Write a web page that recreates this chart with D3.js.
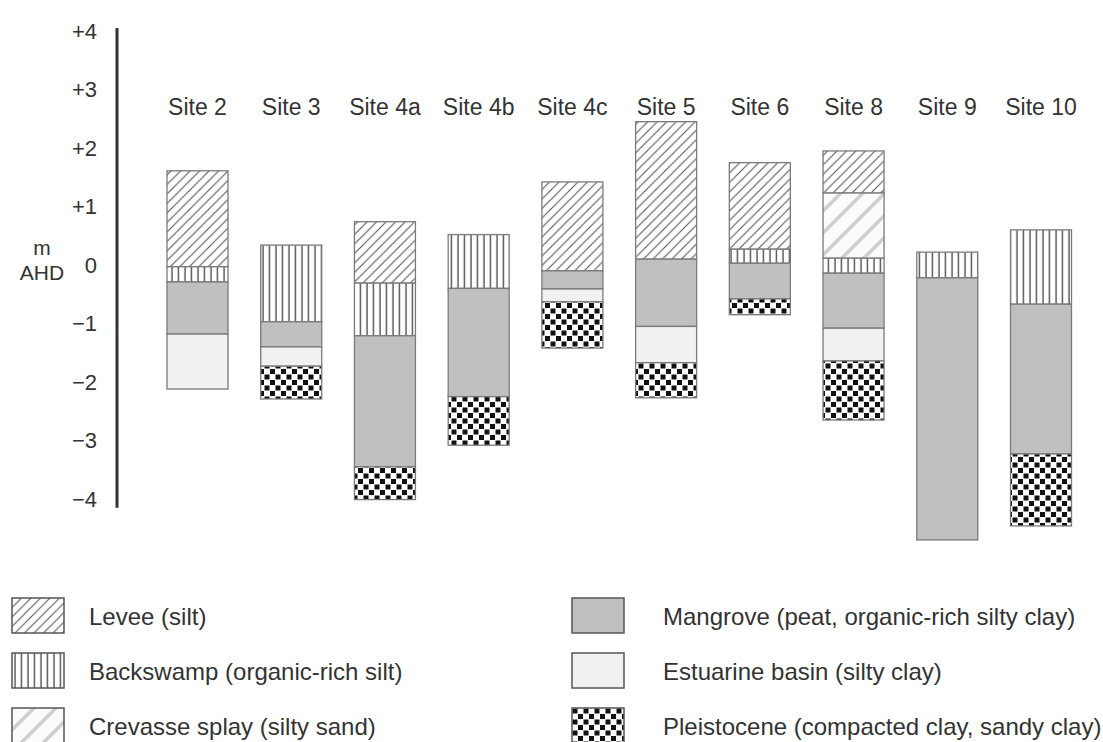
<!DOCTYPE html>
<html><head><meta charset="utf-8">
<script src="https://cdn.jsdelivr.net/npm/d3@7"></script>
<style>
html,body{margin:0;padding:0;background:#fff;}
text{font-family:"Liberation Sans",Arial,Helvetica,sans-serif;fill:#333;}
</style></head>
<body>
<svg id="chart" width="1103" height="742"></svg>
<script>
// ---- data ----
const sites = ["Site 2","Site 3","Site 4a","Site 4b","Site 4c","Site 5","Site 6","Site 8","Site 9","Site 10"];
const tickValues = [4,3,2,1,0,-1,-2,-3,-4];
const tickLabels = ["+4","+3","+2","+1","0","\u22121","\u22122","\u22123","\u22124"];
const unitKeys = ["levee","backswamp","crevasse","mangrove","estuarine","pleistocene"];
const unitLabels = ["Levee (silt)","Backswamp (organic-rich silt)","Crevasse splay (silty sand)",
  "Mangrove (peat, organic-rich silty clay)","Estuarine basin (silty clay)","Pleistocene (compacted clay, sandy clay)"];
// [top, bottom] in m AHD per site (null = unit absent)
const levee       = [[1.61,-0.03],null,[0.74,-0.31],null,[1.42,-0.10],[2.45,0.10],[1.75,0.27],[1.95,1.23],null,null];
const backswamp   = [[-0.03,-0.29],[0.34,-0.97],[-0.31,-1.21],[0.52,-0.40],null,null,[0.27,0.03],[0.12,-0.14],[0.22,-0.22],[0.60,-0.67]];
const crevasse    = [null,null,null,null,null,null,null,[1.23,0.12],null,null];
const mangrove    = [[-0.29,-1.18],[-0.97,-1.40],[-1.21,-3.45],[-0.40,-2.25],[-0.10,-0.41],[0.10,-1.05],[0.03,-0.58],[-0.14,-1.08],[-0.22,-4.70],[-0.67,-3.23]];
const estuarine   = [[-1.18,-2.12],[-1.40,-1.73],null,null,[-0.41,-0.63],[-1.05,-1.67],null,[-1.08,-1.64],null,null];
const pleistocene = [null,[-1.73,-2.29],[-3.45,-4.01],[-2.25,-3.08],[-0.63,-1.42],[-1.67,-2.27],[-0.58,-0.85],[-1.64,-2.65],null,[-3.23,-4.46]];

const unitData = {levee, backswamp, crevasse, mangrove, estuarine, pleistocene};

// ---- layout ----
const svg = d3.select("#chart");
const y = d3.scaleLinear().domain([4,-4]).range([31,499]);
const x = d3.scalePoint().domain(sites).range([197.5,1041]);
const barW = 61;

const defs = svg.append("defs");
const pL = defs.append("pattern").attr("id","levee").attr("patternUnits","userSpaceOnUse")
  .attr("width",9.5).attr("height",9.5);
pL.append("rect").attr("width",9.5).attr("height",9.5).attr("fill","#fff");
pL.append("path").attr("d","M-1,10.5 L10.5,-1 M-5.75,5.75 L5.75,-5.75 M3.75,15.25 L15.25,3.75").attr("stroke","#555").attr("stroke-width",1.1);
const pB = defs.append("pattern").attr("id","backswamp").attr("patternUnits","userSpaceOnUse")
  .attr("width",6.5).attr("height",10);
pB.append("rect").attr("width",6.5).attr("height",10).attr("fill","#fff");
pB.append("path").attr("d","M3,0 L3,10").attr("stroke","#333").attr("stroke-width",1.2);
const pC = defs.append("pattern").attr("id","crevasse").attr("patternUnits","userSpaceOnUse")
  .attr("width",22).attr("height",22);
pC.append("rect").attr("width",22).attr("height",22).attr("fill","#fbfbfb");
pC.append("path").attr("d","M-2,24 L24,-2 M-13,13 L13,-13 M9,35 L35,9").attr("stroke","#cfcfcf").attr("stroke-width",3.5);
const pP = defs.append("pattern").attr("id","pleistocene").attr("patternUnits","userSpaceOnUse")
  .attr("width",11).attr("height",11);
pP.append("rect").attr("width",11).attr("height",11).attr("fill","#fff");
pP.append("rect").attr("x",0.5).attr("y",0.5).attr("width",5).attr("height",5).attr("fill","#111");
pP.append("rect").attr("x",6).attr("y",6).attr("width",5).attr("height",5).attr("fill","#111");

const fills = {levee:"url(#levee)", backswamp:"url(#backswamp)", crevasse:"url(#crevasse)",
  mangrove:"#c0c0c0", estuarine:"#f1f1f1", pleistocene:"url(#pleistocene)"};

const layers = [];
unitKeys.forEach(k => unitData[k].forEach((d,i) => { if (d) layers.push({unit:k, site:sites[i], top:d[0], bot:d[1]}); }));
svg.append("g").selectAll("rect").data(layers).join("rect")
  .attr("x", d => x(d.site) - barW/2)
  .attr("y", d => y(d.top))
  .attr("width", barW)
  .attr("height", d => y(d.bot) - y(d.top))
  .attr("fill", d => fills[d.unit])
  .attr("stroke", "#7a7a7a").attr("stroke-width", 1.3);

svg.append("g").selectAll("text").data(sites).join("text")
  .attr("x", d => x(d)).attr("y", 115).attr("text-anchor","middle")
  .style("font-size","23px").text(d => d);

const axis = d3.axisLeft(y).tickValues(tickValues).tickSize(0).tickPadding(20)
  .tickFormat((d,i) => tickLabels[i]);
const gA = svg.append("g").attr("transform","translate(117,0)").call(axis);
gA.select(".domain").remove();
gA.selectAll("text").style("font-size","22px").style("font-family","'Liberation Sans',Arial,sans-serif").attr("fill","#333");
gA.append("line").attr("x1",0).attr("x2",0).attr("y1",y(4.05)).attr("y2",y(-4.15))
  .attr("stroke","#333").attr("stroke-width",3);

svg.append("text").attr("x",42).attr("y",255).attr("text-anchor","middle").style("font-size","21px").text("m");
svg.append("text").attr("x",42).attr("y",280).attr("text-anchor","middle").style("font-size","21px").text("AHD");

const legendItems = unitKeys.map((k,i) => ({key:k, label:unitLabels[i], col: i < 3 ? 0 : 1, row: i % 3}));
const colX = [12, 572];
const textX = [89, 663];
const rowY = [598, 653, 708];
const lg = svg.append("g").selectAll("g").data(legendItems).join("g")
  .attr("transform", d => `translate(${colX[d.col]},${rowY[d.row]})`);
lg.append("rect").attr("width",52).attr("height",35).attr("fill", d => fills[d.key])
  .attr("stroke","#555").attr("stroke-width",1.5);
lg.append("text").attr("x", d => textX[d.col] - colX[d.col]).attr("y",27).style("font-size","24px").text(d => d.label);
</script>
</body></html>
